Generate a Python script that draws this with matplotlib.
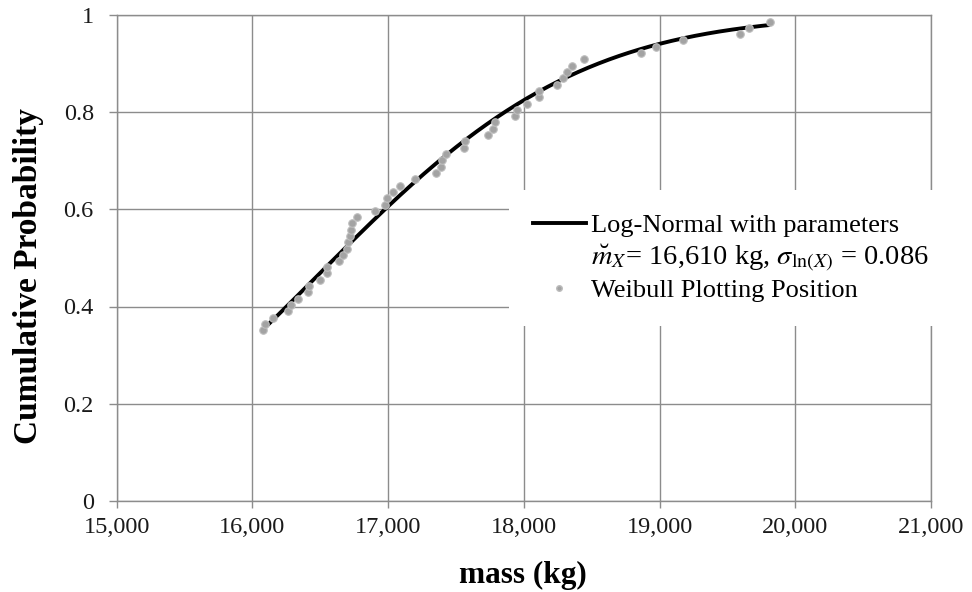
import math
import numpy as np
import matplotlib
matplotlib.use("Agg")
import matplotlib.pyplot as plt
from matplotlib.lines import Line2D

plt.rcParams['font.family'] = ['Liberation Serif', 'DejaVu Serif']
plt.rcParams['mathtext.fontset'] = 'stix'

# Observed masses (kg) and their Weibull plotting positions i/(n+1)
mass_kg = [16076, 16093, 16154, 16259, 16282, 16334, 16412, 16419, 16500, 16552,
           16552, 16640, 16665, 16697, 16705, 16719, 16727, 16732, 16773, 16906,
           16979, 16992, 17038, 17088, 17198, 17351, 17390, 17397, 17427, 17557,
           17567, 17738, 17775, 17788, 17935, 17946, 18021, 18114, 18114, 18242,
           18291, 18318, 18353, 18444, 18864, 18974, 19171, 19593, 19660, 19814]
plot_pos = [0.351, 0.364, 0.377, 0.390, 0.403, 0.416, 0.429, 0.442, 0.455, 0.468,
            0.481, 0.494, 0.506, 0.519, 0.532, 0.545, 0.558, 0.571, 0.584, 0.597,
            0.610, 0.623, 0.636, 0.649, 0.662, 0.675, 0.688, 0.701, 0.714, 0.727,
            0.740, 0.753, 0.766, 0.779, 0.792, 0.805, 0.818, 0.831, 0.844, 0.857,
            0.870, 0.883, 0.896, 0.909, 0.922, 0.935, 0.948, 0.961, 0.974, 0.987]

# Fitted log-normal parameters
median_kg = 16610
sigma_ln = 0.086

x_ticks = [15000, 16000, 17000, 18000, 19000, 20000, 21000]
y_ticks = [0, 0.2, 0.4, 0.6, 0.8, 1.0]
y_tick_labels = ['0', '0.2', '0.4', '0.6', '0.8', '1']

# Log-normal CDF over the range of the observations
xs = np.linspace(min(mass_kg), max(mass_kg), 300)
cdf = [0.5 * (1 + math.erf(math.log(x / median_kg) / (sigma_ln * math.sqrt(2)))) for x in xs]

GRID = '#8c8c8c'

fig = plt.figure(figsize=(9.72, 5.92), dpi=100)
ax = fig.add_axes([116.7 / 972, 1 - 500.7 / 592, 814.3 / 972, 485.5 / 592])

ax.plot(xs, cdf, color='black', lw=2.8, solid_capstyle='butt', zorder=3)
ax.plot(mass_kg, plot_pos, 'o', ms=5.4, mfc='#a3a3a3', mec='#bdbdbd', mew=0.8,
        linestyle='none', zorder=4)

ax.set_xlim(15000, 21000)
ax.set_ylim(0, 1)
ax.set_xticks(x_ticks)
ax.set_xticklabels([f'{t:,}' for t in x_ticks])
ax.set_yticks(y_ticks)
ax.set_yticklabels(y_tick_labels)
ax.grid(True, color=GRID, lw=1.0, zorder=0)
ax.set_axisbelow(True)
for s in ax.spines.values():
    s.set_color(GRID)
    s.set_linewidth(1.0)
ax.tick_params(axis='x', direction='out', length=5, width=1.0, color=GRID,
               labelsize=17.5, labelcolor='#1a1a1a', pad=7)
ax.tick_params(axis='y', direction='out', length=5.5, width=1.0, color=GRID,
               labelsize=17.5, labelcolor='#1a1a1a', pad=11)

ax.set_xlabel('mass (kg)', fontsize=22.5, fontweight='bold', va='center')
ax.xaxis.set_label_coords(0.499, -0.153)
ax.set_ylabel('Cumulative Probability', fontsize=24, fontweight='bold', va='center')
ax.yaxis.set_label_coords(-0.1077, 0.463)

handles = [
    Line2D([], [], color='black', lw=2.8),
    Line2D([], [], linestyle='none'),
    Line2D([], [], linestyle='none', marker='o', ms=4, mfc='#a3a3a3', mec='#bdbdbd'),
]
labels = [
    'Log-Normal with parameters',
    r'$\breve{m}_X$= 16,610 kg, $\sigma_{\mathrm{ln}(X)}$ = 0.086',
    'Weibull Plotting Position',
]
leg = ax.legend(handles, labels, loc='upper left',
                bbox_to_anchor=(509 / 972, 1 - 190 / 592),
                bbox_transform=fig.transFigure, fontsize=19,
                frameon=True, fancybox=False, framealpha=1,
                facecolor='white', edgecolor='none',
                handlelength=2.0, handletextpad=0.2, labelspacing=0.2,
                borderpad=0.9, borderaxespad=0)
leg.get_texts()[1].set_fontsize(20.5)
leg.set_zorder(10)

fig.savefig('out.png', dpi=100)
